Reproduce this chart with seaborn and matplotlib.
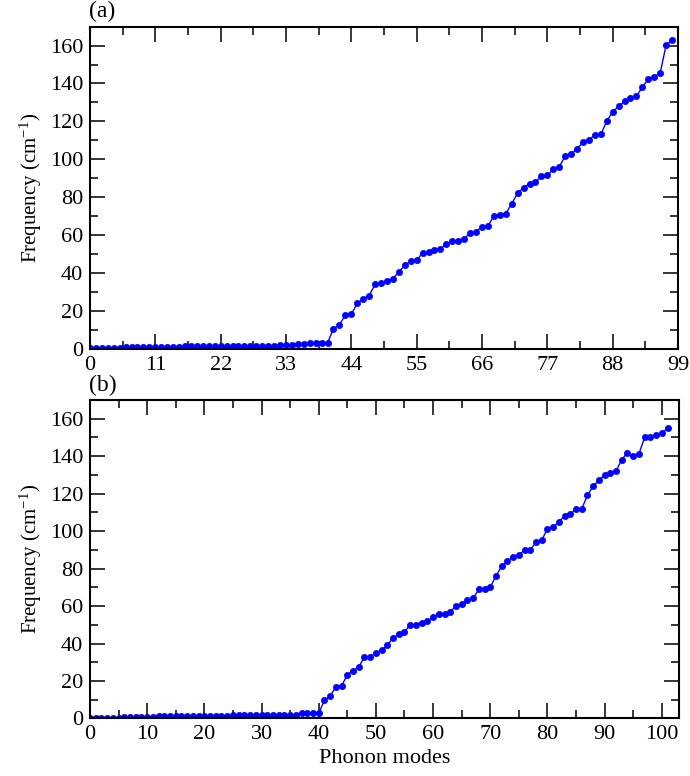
import numpy as np
import matplotlib
matplotlib.use("Agg")
import matplotlib.pyplot as plt
from matplotlib.ticker import MultipleLocator
import seaborn as sns

# Phonon frequencies (cm^-1)
modes_a = np.arange(99)
freq_a = [0.2, 0.2, 0.3, 0.3, 0.4, 0.5, 0.6, 0.7, 0.8, 0.8,
          0.9, 0.9, 1.0, 1.0, 1.0, 1.0, 1.1, 1.1, 1.1, 1.1,
          1.2, 1.2, 1.2, 1.3, 1.4, 1.4, 1.5, 1.5, 1.5, 1.6,
          1.6, 1.6, 1.7, 1.8, 2.1, 2.5, 2.6, 2.8, 3.0, 3.1,
          3.0, 10.5, 12.7, 17.6, 18.1, 23.9, 26.2, 28.0, 33.9, 34.5,
          35.7, 36.9, 40.5, 44.0, 46.3, 46.6, 50.5, 51.0, 52.2, 52.8,
          55.0, 56.8, 56.8, 57.9, 61.2, 61.7, 64.4, 64.7, 70.0, 70.4,
          71.3, 76.5, 82.0, 85.0, 87.1, 88.0, 90.9, 91.5, 94.6, 96.0,
          101.5, 102.9, 105.4, 108.9, 110.1, 112.9, 113.1, 120.0, 125.1, 127.9,
          130.5, 132.1, 133.2, 138.1, 142.3, 143.4, 145.5, 160.3, 162.9]

modes_b = np.arange(102)
freq_b = [0.0, 0.0, 0.1, 0.1, 0.2, 0.5, 0.6, 0.6, 0.7, 0.8,
          1.0, 1.0, 1.1, 1.1, 1.1, 1.1, 1.2, 1.2, 1.2, 1.2,
          1.2, 1.2, 1.3, 1.3, 1.3, 1.7, 1.7, 1.7, 1.7, 1.7,
          1.7, 1.7, 1.7, 1.7, 1.7, 1.7, 1.8, 2.8, 2.8, 2.8,
          2.8, 9.7, 12.0, 16.8, 17.4, 23.3, 25.6, 27.4, 32.9, 32.9,
          35.0, 36.3, 39.1, 43.0, 44.9, 46.2, 50.1, 50.1, 51.2, 52.0,
          54.0, 55.9, 55.9, 57.0, 60.0, 61.1, 63.0, 64.1, 68.9, 69.0,
          70.1, 76.1, 81.3, 84.0, 86.3, 87.2, 90.0, 90.0, 94.1, 95.2,
          101.2, 102.1, 105.1, 108.1, 109.0, 112.0, 112.0, 119.1, 124.1, 127.1,
          130.0, 131.2, 132.1, 138.2, 141.9, 140.1, 141.2, 150.1, 150.1, 151.1,
          152.2, 155.0]

sns.set_style("ticks")
plt.rcParams['font.family'] = ['Liberation Serif', 'DejaVu Serif']
plt.rcParams['mathtext.fontset'] = 'custom'
plt.rcParams['mathtext.rm'] = 'Liberation Serif'
plt.rcParams['mathtext.default'] = 'regular'
plt.rcParams['text.color'] = 'black'
plt.rcParams['axes.labelcolor'] = 'black'
plt.rcParams['axes.edgecolor'] = 'black'
plt.rcParams['xtick.color'] = 'black'
plt.rcParams['ytick.color'] = 'black'

fig = plt.figure(figsize=(6.9, 7.76), dpi=100)
ax_a = fig.add_axes([0.1304, 0.5508, 0.8522, 0.4148])
ax_b = fig.add_axes([0.1304, 0.0741, 0.8536, 0.4104])

panels = [
    (ax_a, modes_a, freq_a, 99, 11, 5.5, "(a)"),
    (ax_b, modes_b, freq_b, 103, 10, 5, "(b)"),
]

for ax, x, y, xmax, xmaj, xmin, tag in panels:
    sns.lineplot(x=x, y=y, ax=ax, color='#0000ff', marker='o', markersize=4.5,
                 markeredgecolor='#0000ff', markeredgewidth=0.5, linewidth=1.0)
    ax.set_xlim(0, xmax)
    ax.set_ylim(0, 170)
    ax.xaxis.set_major_locator(MultipleLocator(xmaj))
    ax.xaxis.set_minor_locator(MultipleLocator(xmin))
    ax.yaxis.set_major_locator(MultipleLocator(20))
    ax.yaxis.set_minor_locator(MultipleLocator(10))
    ax.tick_params(which='both', direction='in', top=True, right=True,
                   labelsize=16, width=1.1, color='black')
    ax.tick_params(which='major', length=11, pad=5)
    ax.tick_params(which='minor', length=5.5)
    for sp in ax.spines.values():
        sp.set_linewidth(1.5)
        sp.set_visible(True)
    ax.set_ylabel(r"Frequency (cm$^{-1}$)", fontsize=15, labelpad=4)
    ax.annotate(tag, xy=(0, 1), xycoords='axes fraction', xytext=(-1, 3),
                textcoords='offset points', ha='left', va='bottom', fontsize=17)

ax_b.set_xlabel("Phonon modes", fontsize=16, labelpad=3)

fig.savefig("out.png", dpi=100)
